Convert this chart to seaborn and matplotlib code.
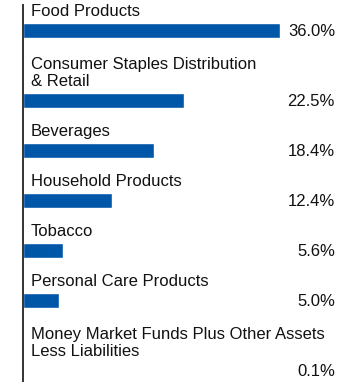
import matplotlib
matplotlib.use("Agg")
import matplotlib.pyplot as plt
import matplotlib.transforms as mtransforms
import seaborn as sns
import pandas as pd

categories = [
    "Food Products",
    "Consumer Staples Distribution\n& Retail",
    "Beverages",
    "Household Products",
    "Tobacco",
    "Personal Care Products",
    "Money Market Funds Plus Other Assets\nLess Liabilities",
]
values = [36.0, 22.5, 18.4, 12.4, 5.6, 5.0, 0.1]
value_labels = ["36.0%", "22.5%", "18.4%", "12.4%", "5.6%", "5.0%", "0.1%"]

W, H = 360, 386
DPI = 100
sns.set_style("white")
plt.rcParams["font.family"] = ["Liberation Sans", "DejaVu Sans"]

# layout: slot heights in pixel units from the number of label lines
positions = []
y = 30.0
for i, c in enumerate(categories):
    nlines = c.count("\n") + 1
    if i > 0:
        y += 50 + 20 * (nlines - 1)
    positions.append(y)

df = pd.DataFrame({"cat": categories, "value": values, "pos": positions})

fig = plt.figure(figsize=(W / DPI, H / DPI), dpi=DPI)
ax_left = 23 / W
ax = fig.add_axes([ax_left, 0, 1 - ax_left, 1])

sns.barplot(data=df, x="value", y="pos", orient="h", native_scale=True,
            color="#0057a8", saturation=1, width=15 / 50, ax=ax)

px_per_unit = 7.14
ax.set_xlim(0, (W - 23) / px_per_unit)
ax.set_ylim(H, 0)
ax.set_xlabel("")
ax.set_ylabel("")
ax.set_xticks([])
ax.set_yticks([])
for s in ["top", "right", "bottom"]:
    ax.spines[s].set_visible(False)
ax.spines["left"].set_bounds(5, 381)
ax.spines["left"].set_color("#333333")
ax.spines["left"].set_linewidth(1.4)

trans = mtransforms.blended_transform_factory(ax.transAxes, ax.transData)
label_x = (31 - 23) / (W - 23)
value_x = (335 - 23) / (W - 23)
for c, v, p in zip(categories, value_labels, df["pos"]):
    ax.text(label_x, p - 11, c, transform=trans, ha="left", va="bottom",
            fontsize=12, color="#111111", linespacing=1.2)
    ax.text(value_x, p + 2, v, transform=trans, ha="right", va="center",
            fontsize=12, color="#111111")

fig.savefig("out.png", dpi=DPI)
